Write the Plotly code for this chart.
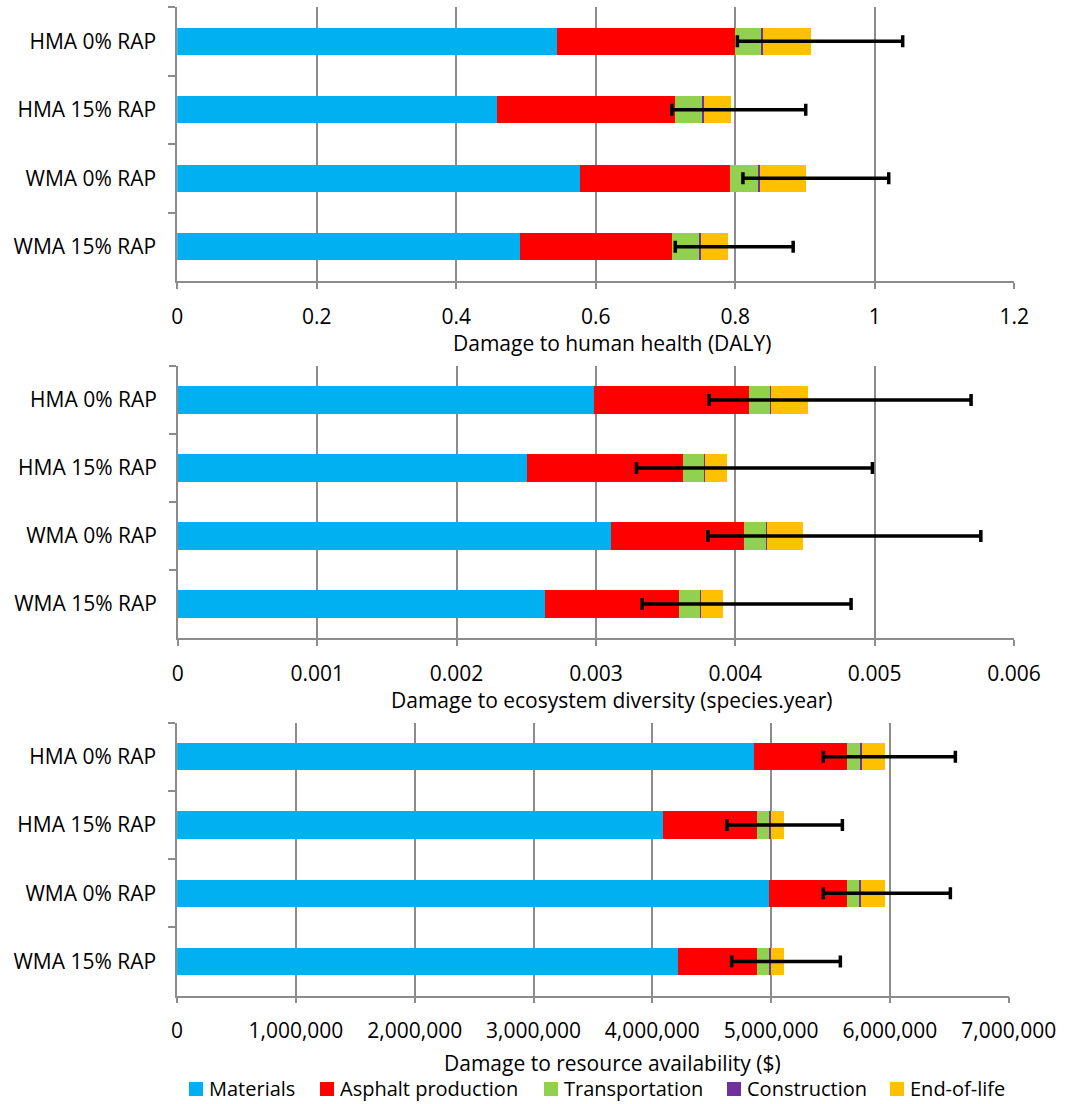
import plotly.graph_objects as go

W, H = 1066, 1104
FONT = "Open Sans"
FS = 21

scenarios = ["HMA 0% RAP", "HMA 15% RAP", "WMA 0% RAP", "WMA 15% RAP"]
stages = ["Materials", "Asphalt production", "Transportation", "Construction", "End-of-life"]
stage_colors = ["#00B0F0", "#FF0000", "#92D050", "#7030A0", "#FFC000"]

# Damage to human health (DALY)
hh_materials = [0.544, 0.458, 0.577, 0.491]
hh_asphalt = [0.255, 0.256, 0.216, 0.218]
hh_transport = [0.038, 0.038, 0.040, 0.039]
hh_construction = [0.003, 0.003, 0.003, 0.003]
hh_eol = [0.068, 0.039, 0.066, 0.039]
hh_low = [0.803, 0.709, 0.811, 0.714]
hh_high = [1.040, 0.901, 1.020, 0.883]
hh_ticks = [0, 0.2, 0.4, 0.6, 0.8, 1.0, 1.2]
hh_ticktext = ["0", "0.2", "0.4", "0.6", "0.8", "1", "1.2"]

# Damage to ecosystem diversity (species.year)
ed_materials = [0.002986, 0.002509, 0.003110, 0.002638]
ed_asphalt = [0.001109, 0.001117, 0.000954, 0.000960]
ed_transport = [0.000158, 0.000153, 0.000158, 0.000152]
ed_construction = [0.000005, 0.000005, 0.000005, 0.000005]
ed_eol = [0.000263, 0.000158, 0.000260, 0.000158]
ed_low = [0.003813, 0.003291, 0.003803, 0.003332]
ed_high = [0.005692, 0.004984, 0.005762, 0.004831]
ed_ticks = [0, 0.001, 0.002, 0.003, 0.004, 0.005, 0.006]
ed_ticktext = ["0", "0.001", "0.002", "0.003", "0.004", "0.005", "0.006"]

# Damage to resource availability ($)
ra_materials = [4859000, 4090000, 4980000, 4214000]
ra_asphalt = [783000, 789000, 662000, 667000]
ra_transport = [106000, 103000, 101000, 101000]
ra_construction = [17000, 17000, 17000, 17000]
ra_eol = [196000, 107000, 196000, 107000]
ra_low = [5440000, 4629000, 5440000, 4668000]
ra_high = [6551000, 5600000, 6509000, 5583000]
ra_ticks = [0, 1000000, 2000000, 3000000, 4000000, 5000000, 6000000, 7000000]
ra_ticktext = ["0", "1,000,000", "2,000,000", "3,000,000", "4,000,000",
               "5,000,000", "6,000,000", "7,000,000"]

panels = [
    dict(segments=[hh_materials, hh_asphalt, hh_transport, hh_construction, hh_eol],
         low=hh_low, high=hh_high, ticks=hh_ticks, ticktext=hh_ticktext,
         title="Damage to human health (DALY)",
         xdom=(177.2, 1014.3), ydom=(7, 281), title_y=343),
    dict(segments=[ed_materials, ed_asphalt, ed_transport, ed_construction, ed_eol],
         low=ed_low, high=ed_high, ticks=ed_ticks, ticktext=ed_ticktext,
         title="Damage to ecosystem diversity (species.year)",
         xdom=(177.8, 1014.0), ydom=(366, 638), title_y=700),
    dict(segments=[ra_materials, ra_asphalt, ra_transport, ra_construction, ra_eol],
         low=ra_low, high=ra_high, ticks=ra_ticks, ticktext=ra_ticktext,
         title="Damage to resource availability ($)",
         xdom=(177.1, 1008.7), ydom=(722.7, 995.5), title_y=1063),
]


def fx(px):
    return px / W


def fy(py):
    return 1 - py / H


GRID = "#8C8C8C"
fig = go.Figure()
annotations = []
shapes = []

for i, p in enumerate(panels, start=1):
    suffix = "" if i == 1 else str(i)
    xref, yref = "x" + suffix, "y" + suffix
    for name, color, vals in zip(stages, stage_colors, p["segments"]):
        fig.add_trace(go.Bar(
            x=vals, y=scenarios, orientation="h", name=name,
            marker=dict(color=color, line=dict(width=0)),
            xaxis=xref, yaxis=yref, showlegend=False,
        ))
    totals = [sum(v) for v in zip(*p["segments"])]
    fig.add_trace(go.Scatter(
        x=totals, y=scenarios, mode="markers",
        marker=dict(size=1, opacity=0),
        error_x=dict(type="data", symmetric=False,
                     array=[h - t for h, t in zip(p["high"], totals)],
                     arrayminus=[t - l for t, l in zip(totals, p["low"])],
                     color="black", thickness=3.5, width=6),
        xaxis=xref, yaxis=yref, showlegend=False, hoverinfo="skip",
    ))
    x0, x1 = p["xdom"]
    y0, y1 = p["ydom"]
    fig.layout["xaxis" + suffix] = dict(
        domain=[fx(x0), fx(x1)], range=[p["ticks"][0], p["ticks"][-1]],
        anchor=yref, tickmode="array", tickvals=p["ticks"], ticktext=p["ticktext"],
        showgrid=True, gridcolor=GRID, gridwidth=1.5, zeroline=False,
        showline=True, linecolor=GRID, linewidth=1.5,
        ticks="outside", ticklen=6, tickwidth=1.5, tickcolor=GRID,
        ticklabelstandoff=10,
        tickfont=dict(family=FONT, size=FS, color="black"), fixedrange=True,
    )
    fig.layout["yaxis" + suffix] = dict(
        domain=[fy(y1), fy(y0)], anchor=xref, type="category",
        categoryorder="array", categoryarray=scenarios,
        range=[len(scenarios) - 0.5, -0.5],
        showgrid=False, zeroline=False, showline=True, linecolor=GRID, linewidth=1.5,
        ticks="outside", tickson="boundaries", ticklen=7, tickwidth=1.5, tickcolor=GRID,
        ticklabelstandoff=15,
        tickfont=dict(family=FONT, size=FS, color="black"), fixedrange=True,
    )
    annotations.append(dict(
        text=p["title"], x=fx(612), y=fy(p["title_y"]), xref="paper", yref="paper",
        xanchor="center", yanchor="middle", showarrow=False,
        font=dict(family=FONT, size=FS, color="black"),
    ))

# Legend row along the bottom
legend_left = [189, 320, 544, 727, 890]
legend_y = 1088
for name, color, left in zip(stages, stage_colors, legend_left):
    shapes.append(dict(
        type="rect", xref="paper", yref="paper",
        x0=fx(left), x1=fx(left + 14), y0=fy(legend_y + 8), y1=fy(legend_y - 6),
        fillcolor=color, line=dict(width=0),
    ))
    annotations.append(dict(
        text=name, x=fx(left + 18), y=fy(legend_y), xref="paper", yref="paper",
        xanchor="left", yanchor="middle", showarrow=False,
        font=dict(family=FONT, size=20, color="black"),
    ))

fig.update_layout(
    width=W, height=H, margin=dict(l=0, r=0, t=0, b=0),
    template="none", barmode="stack", bargap=0.6,
    paper_bgcolor="white", plot_bgcolor="white",
    showlegend=False, annotations=annotations, shapes=shapes,
    font=dict(family=FONT, size=FS, color="black"),
)

fig.write_html("out.html")
